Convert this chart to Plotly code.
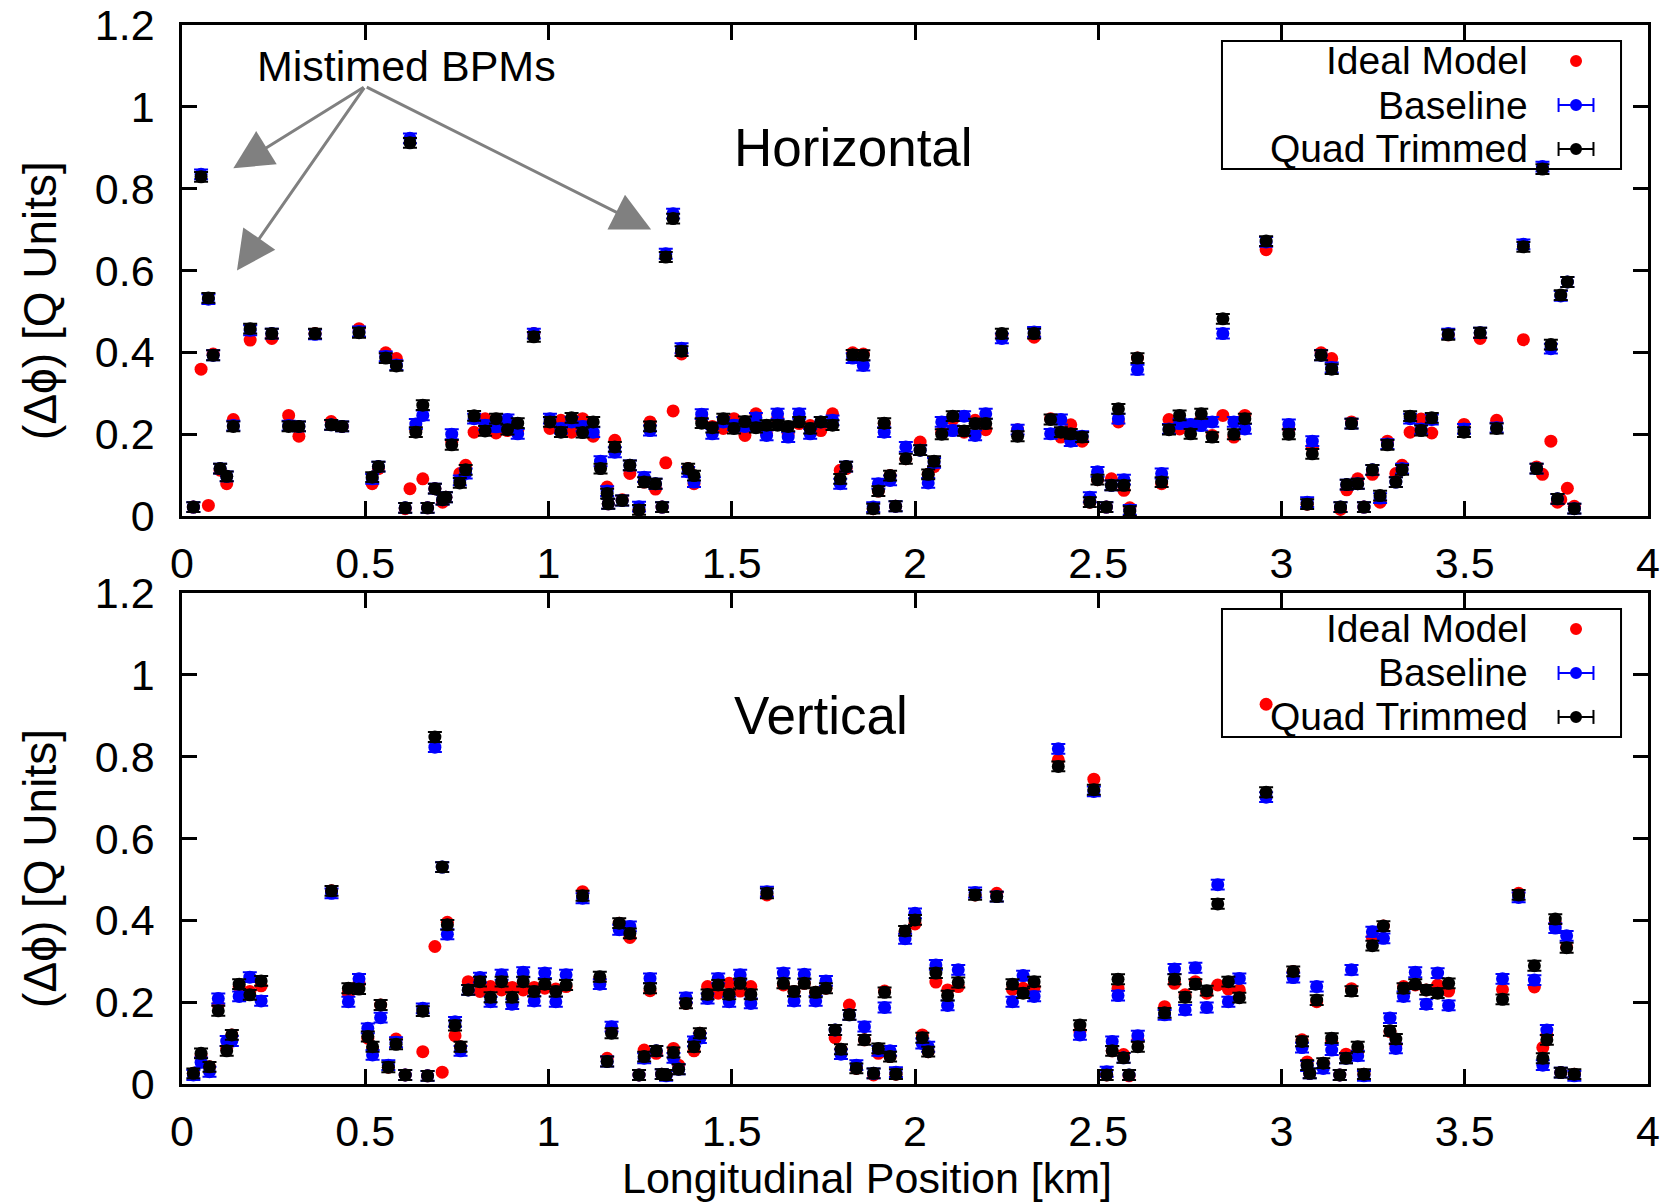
import plotly.graph_objects as go

# ---------------- Horizontal plane: phase advance error per BPM ----------------
h_pos_km = [0.031, 0.052, 0.072, 0.085, 0.104, 0.122, 0.140, 0.186, 0.245, 0.291,
            0.319, 0.363, 0.407, 0.437, 0.483, 0.519, 0.536, 0.556, 0.585, 0.609,
            0.622, 0.638, 0.657, 0.670, 0.690, 0.711, 0.720, 0.736, 0.758, 0.774,
            0.797, 0.827, 0.857, 0.888, 0.916, 0.960, 1.004, 1.034, 1.063, 1.093,
            1.122, 1.142, 1.160, 1.163, 1.181, 1.201, 1.222, 1.247, 1.261, 1.277,
            1.292, 1.310, 1.320, 1.340, 1.363, 1.381, 1.397, 1.418, 1.447, 1.477,
            1.506, 1.536, 1.566, 1.595, 1.625, 1.654, 1.684, 1.714, 1.743, 1.775,
            1.796, 1.812, 1.830, 1.859, 1.886, 1.900, 1.916, 1.932, 1.947, 1.975,
            2.014, 2.036, 2.052, 2.073, 2.103, 2.134, 2.164, 2.193, 2.237, 2.280,
            2.325, 2.370, 2.398, 2.425, 2.456, 2.477, 2.498, 2.522, 2.536, 2.555,
            2.570, 2.586, 2.607, 2.673, 2.693, 2.722, 2.752, 2.781, 2.811, 2.840,
            2.870, 2.900, 2.958, 3.020, 3.070, 3.084, 3.108, 3.137, 3.161, 3.178,
            3.191, 3.208, 3.225, 3.248, 3.269, 3.289, 3.312, 3.329, 3.351, 3.381,
            3.410, 3.455, 3.498, 3.542, 3.587, 3.660, 3.696, 3.712, 3.735, 3.753,
            3.762, 3.780, 3.799]

h_ideal = [0.022, 0.359, 0.026, 0.396, 0.112, 0.079, 0.236, 0.430, 0.434, 0.246,
           0.195, 0.446, 0.231, 0.219, 0.458, 0.079, 0.116, 0.399, 0.385, 0.018,
           0.067, 0.210, 0.091, 0.020, 0.067, 0.034, 0.046, 0.181, 0.104, 0.124,
           0.205, 0.238, 0.203, 0.209, 0.209, 0.446, 0.214, 0.234, 0.205, 0.238,
           0.195, 0.121, 0.071, 0.030, 0.185, 0.040, 0.104, 0.015, 0.083, 0.230,
           0.066, 0.022, 0.130, 0.257, 0.396, 0.116, 0.079, 0.238, 0.219, 0.214,
           0.238, 0.197, 0.250, 0.201, 0.238, 0.201, 0.226, 0.221, 0.209, 0.250,
           0.112, 0.116, 0.399, 0.396, 0.018, 0.061, 0.226, 0.099, 0.024, 0.140,
           0.181, 0.102, 0.121, 0.205, 0.236, 0.205, 0.234, 0.211, 0.442, 0.211,
           0.437, 0.238, 0.193, 0.223, 0.183, 0.034, 0.089, 0.022, 0.091, 0.230,
           0.063, 0.020, 0.386, 0.079, 0.236, 0.213, 0.221, 0.236, 0.197, 0.246,
           0.193, 0.246, 0.651, 0.213, 0.029, 0.168, 0.399, 0.385, 0.016, 0.064,
           0.230, 0.091, 0.022, 0.102, 0.034, 0.183, 0.104, 0.124, 0.205, 0.237,
           0.203, 0.443, 0.224, 0.434, 0.234, 0.431, 0.120, 0.102, 0.183, 0.034,
           0.040, 0.068, 0.024]

h_baseline = [0.022, 0.835, 0.530, 0.393, 0.116, 0.097, 0.221, 0.454, 0.446, 0.221,
              0.219, 0.444, 0.223, 0.219, 0.451, 0.091, 0.121, 0.390, 0.369, 0.020,
              0.923, 0.225, 0.246, 0.020, 0.067, 0.040, 0.046, 0.200, 0.087, 0.104,
              0.238, 0.222, 0.218, 0.236, 0.201, 0.446, 0.238, 0.214, 0.230, 0.219,
              0.205, 0.134, 0.061, 0.030, 0.156, 0.038, 0.124, 0.023, 0.095, 0.209,
              0.079, 0.022, 0.641, 0.739, 0.410, 0.108, 0.083, 0.249, 0.201, 0.230,
              0.222, 0.219, 0.240, 0.197, 0.250, 0.193, 0.250, 0.201, 0.230, 0.234,
              0.079, 0.121, 0.386, 0.368, 0.022, 0.079, 0.205, 0.087, 0.024, 0.169,
              0.161, 0.081, 0.130, 0.230, 0.209, 0.244, 0.197, 0.250, 0.434, 0.211,
              0.450, 0.201, 0.236, 0.183, 0.195, 0.046, 0.108, 0.022, 0.075, 0.238,
              0.089, 0.015, 0.358, 0.104, 0.213, 0.226, 0.224, 0.221, 0.230, 0.446,
              0.230, 0.213, 0.670, 0.224, 0.034, 0.183, 0.393, 0.363, 0.022, 0.077,
              0.226, 0.079, 0.022, 0.113, 0.044, 0.176, 0.083, 0.116, 0.238, 0.213,
              0.236, 0.446, 0.213, 0.448, 0.216, 0.664, 0.116, 0.854, 0.409, 0.042,
              0.538, 0.572, 0.018]

h_trimmed = [0.022, 0.829, 0.533, 0.393, 0.116, 0.097, 0.219, 0.458, 0.446, 0.219,
             0.219, 0.446, 0.223, 0.219, 0.448, 0.095, 0.121, 0.386, 0.367, 0.020,
             0.912, 0.205, 0.271, 0.020, 0.067, 0.040, 0.046, 0.174, 0.081, 0.113,
             0.245, 0.208, 0.238, 0.211, 0.227, 0.438, 0.230, 0.205, 0.240, 0.204,
             0.230, 0.116, 0.055, 0.030, 0.169, 0.038, 0.124, 0.015, 0.083, 0.219,
             0.079, 0.022, 0.633, 0.727, 0.403, 0.116, 0.099, 0.227, 0.216, 0.238,
             0.214, 0.231, 0.216, 0.222, 0.222, 0.219, 0.230, 0.214, 0.230, 0.222,
             0.091, 0.121, 0.394, 0.393, 0.018, 0.061, 0.227, 0.099, 0.024, 0.140,
             0.161, 0.102, 0.134, 0.200, 0.244, 0.208, 0.226, 0.226, 0.446, 0.195,
             0.446, 0.236, 0.205, 0.201, 0.193, 0.034, 0.089, 0.022, 0.075, 0.262,
             0.075, 0.012, 0.386, 0.083, 0.211, 0.246, 0.201, 0.250, 0.193, 0.482,
             0.200, 0.238, 0.672, 0.200, 0.029, 0.152, 0.393, 0.359, 0.022, 0.077,
             0.226, 0.079, 0.022, 0.113, 0.050, 0.174, 0.083, 0.113, 0.244, 0.209,
             0.240, 0.443, 0.205, 0.448, 0.214, 0.658, 0.116, 0.848, 0.419, 0.042,
             0.540, 0.572, 0.018]

# ---------------- Vertical plane: phase advance error per BPM ----------------
v_pos_km = [0.031, 0.052, 0.075, 0.099, 0.122, 0.136, 0.156, 0.185, 0.216, 0.408,
            0.454, 0.483, 0.507, 0.520, 0.542, 0.563, 0.584, 0.609, 0.657, 0.670,
            0.690, 0.710, 0.724, 0.745, 0.760, 0.781, 0.813, 0.842, 0.872, 0.901,
            0.931, 0.961, 0.990, 1.020, 1.048, 1.093, 1.140, 1.160, 1.172, 1.193,
            1.222, 1.247, 1.261, 1.277, 1.294, 1.309, 1.321, 1.341, 1.355, 1.375,
            1.397, 1.413, 1.434, 1.463, 1.493, 1.523, 1.552, 1.596, 1.641, 1.670,
            1.698, 1.729, 1.757, 1.782, 1.798, 1.821, 1.840, 1.862, 1.887, 1.900,
            1.917, 1.932, 1.948, 1.973, 2.000, 2.020, 2.036, 2.057, 2.089, 2.118,
            2.164, 2.223, 2.266, 2.295, 2.325, 2.391, 2.450, 2.488, 2.523, 2.538,
            2.554, 2.569, 2.584, 2.608, 2.681, 2.708, 2.737, 2.765, 2.796, 2.826,
            2.855, 2.885, 2.958, 3.032, 3.056, 3.070, 3.077, 3.096, 3.114, 3.137,
            3.159, 3.176, 3.191, 3.208, 3.225, 3.248, 3.278, 3.296, 3.312, 3.333,
            3.365, 3.395, 3.426, 3.456, 3.603, 3.647, 3.690, 3.713, 3.724, 3.747,
            3.762, 3.778, 3.799]

v_ideal = [0.026, 0.071, 0.042, 0.193, 0.087, 0.120, 0.238, 0.226, 0.240, 0.472,
           0.222, 0.246, 0.112, 0.085, 0.193, 0.041, 0.110, 0.022, 0.079, 0.020,
           0.336, 0.029, 0.395, 0.118, 0.091, 0.250, 0.226, 0.238, 0.230, 0.236,
           0.230, 0.236, 0.234, 0.232, 0.238, 0.470, 0.258, 0.063, 0.128, 0.393,
           0.358, 0.022, 0.083, 0.228, 0.075, 0.024, 0.022, 0.087, 0.046, 0.197,
           0.081, 0.124, 0.238, 0.222, 0.246, 0.227, 0.238, 0.462, 0.242, 0.226,
           0.246, 0.224, 0.234, 0.113, 0.085, 0.193, 0.038, 0.108, 0.022, 0.075,
           0.227, 0.067, 0.024, 0.372, 0.391, 0.120, 0.079, 0.249, 0.230, 0.238,
           0.462, 0.466, 0.231, 0.234, 0.236, 0.792, 0.128, 0.745, 0.022, 0.081,
           0.234, 0.072, 0.020, 0.108, 0.189, 0.246, 0.218, 0.250, 0.222, 0.242,
           0.232, 0.230, 0.928, 0.275, 0.108, 0.054, 0.026, 0.201, 0.051, 0.104,
           0.022, 0.073, 0.233, 0.079, 0.024, 0.358, 0.386, 0.128, 0.095, 0.238,
           0.242, 0.230, 0.242, 0.227, 0.231, 0.466, 0.237, 0.089, 0.120, 0.393,
           0.028, 0.335, 0.024]

v_baseline = [0.022, 0.053, 0.030, 0.209, 0.105, 0.105, 0.214, 0.261, 0.203, 0.466,
              0.201, 0.257, 0.136, 0.071, 0.162, 0.046, 0.102, 0.022, 0.185, 0.020,
              0.823, 0.530, 0.366, 0.152, 0.081, 0.230, 0.260, 0.201, 0.267, 0.195,
              0.273, 0.203, 0.271, 0.201, 0.267, 0.454, 0.244, 0.055, 0.140, 0.377,
              0.385, 0.022, 0.063, 0.258, 0.081, 0.024, 0.020, 0.064, 0.036, 0.211,
              0.104, 0.112, 0.209, 0.258, 0.201, 0.267, 0.197, 0.470, 0.271, 0.203,
              0.268, 0.203, 0.252, 0.132, 0.073, 0.169, 0.046, 0.140, 0.026, 0.081,
              0.187, 0.081, 0.029, 0.355, 0.417, 0.099, 0.091, 0.291, 0.192, 0.279,
              0.468, 0.458, 0.201, 0.265, 0.214, 0.819, 0.120, 0.715, 0.030, 0.104,
              0.216, 0.064, 0.022, 0.118, 0.169, 0.281, 0.181, 0.284, 0.187, 0.487,
              0.201, 0.258, 0.701, 0.260, 0.089, 0.044, 0.026, 0.238, 0.038, 0.083,
              0.022, 0.063, 0.279, 0.069, 0.020, 0.372, 0.356, 0.161, 0.087, 0.214,
              0.273, 0.195, 0.271, 0.192, 0.257, 0.456, 0.254, 0.046, 0.132, 0.381,
              0.028, 0.362, 0.020]

v_trimmed = [0.026, 0.075, 0.042, 0.179, 0.081, 0.120, 0.244, 0.218, 0.252, 0.472,
             0.234, 0.232, 0.116, 0.091, 0.193, 0.041, 0.097, 0.022, 0.178, 0.020,
             0.848, 0.530, 0.389, 0.143, 0.091, 0.230, 0.250, 0.212, 0.250, 0.212,
             0.250, 0.226, 0.244, 0.226, 0.242, 0.460, 0.262, 0.055, 0.124, 0.393,
             0.368, 0.022, 0.067, 0.234, 0.081, 0.024, 0.022, 0.077, 0.036, 0.197,
             0.091, 0.124, 0.219, 0.242, 0.219, 0.246, 0.219, 0.466, 0.246, 0.226,
             0.246, 0.224, 0.234, 0.132, 0.085, 0.169, 0.038, 0.108, 0.026, 0.087,
             0.224, 0.067, 0.024, 0.374, 0.401, 0.113, 0.079, 0.271, 0.216, 0.248,
             0.462, 0.458, 0.244, 0.222, 0.250, 0.776, 0.144, 0.719, 0.022, 0.081,
             0.256, 0.064, 0.022, 0.091, 0.174, 0.256, 0.212, 0.244, 0.228, 0.440,
             0.250, 0.211, 0.713, 0.275, 0.104, 0.046, 0.026, 0.205, 0.051, 0.112,
             0.022, 0.063, 0.227, 0.091, 0.024, 0.338, 0.386, 0.130, 0.110, 0.234,
             0.244, 0.230, 0.222, 0.246, 0.207, 0.462, 0.289, 0.063, 0.108, 0.403,
             0.028, 0.333, 0.024]

# Measurement uncertainty of the phase advance (Q units)
phase_err = 0.012

series_names = ["Ideal Model", "Baseline", "Quad Trimmed"]
series_colors = ["#ff0000", "#0000ff", "#000000"]

x_ticks = [0, 0.5, 1, 1.5, 2, 2.5, 3, 3.5, 4]
y_ticks = [0, 0.2, 0.4, 0.6, 0.8, 1, 1.2]

FONT = "Liberation Sans, Arial, Helvetica, sans-serif"
MARKER = 13
Y_TITLE = "(Δϕ) [Q Units]"
X_TITLE = "Longitudinal Position [km]"

fig = go.Figure()

panels = [
    ("x", "y", h_pos_km, [h_ideal, h_baseline, h_trimmed], "Horizontal"),
    ("x2", "y2", v_pos_km, [v_ideal, v_baseline, v_trimmed], "Vertical"),
]

for xa, ya, pos, values, label in panels:
    for i, (name, color, vals) in enumerate(zip(series_names, series_colors, values)):
        trace = dict(
            x=pos, y=vals, mode="markers", name=name, xaxis=xa, yaxis=ya,
            showlegend=False,
            marker=dict(size=MARKER, color=color, line=dict(width=0)),
        )
        if i > 0:
            trace["error_y"] = dict(type="constant", value=phase_err, color=color,
                                    thickness=2, width=7)
        fig.add_trace(go.Scatter(**trace))

    xd, yd = f"{xa} domain", f"{ya} domain"

    # panel label
    fig.add_annotation(x=1.5, y=0.9, xref=xa, yref=ya, text=label, showarrow=False,
                       xanchor="left", yanchor="middle",
                       font=dict(family=FONT, size=53, color="black"))

    # y axis title (placed slightly below the panel centre)
    fig.add_annotation(x=-0.0969, y=0.44, xref=xd, yref=yd, text=Y_TITLE,
                       textangle=-90, showarrow=False, xanchor="center",
                       yanchor="middle", font=dict(family=FONT, size=46, color="black"))

    # boxed key in the upper right corner, gnuplot style (text then sample)
    fig.add_shape(type="rect", xref=xd, yref=yd, x0=0.7094, x1=0.9816,
                  y0=0.7067, y1=0.9674, line=dict(color="black", width=2),
                  fillcolor="rgba(0,0,0,0)", layer="above")
    row_y = [0.9267, 0.837, 0.7475]
    gx, half = 0.9509, 0.0119
    for i, (name, color) in enumerate(zip(series_names, series_colors)):
        gy = row_y[i]
        fig.add_annotation(x=0.9195, y=gy, xref=xd, yref=yd, text=name,
                           showarrow=False, xanchor="right", yanchor="middle",
                           font=dict(family=FONT, size=39, color="black"))
        if i > 0:
            fig.add_shape(type="line", xref=xd, yref=yd, x0=gx - half, x1=gx + half,
                          y0=gy, y1=gy, line=dict(color=color, width=2))
            for cx in (gx - half, gx + half):
                fig.add_shape(type="line", xref=xd, yref=yd, ysizemode="pixel",
                              yanchor=gy, x0=cx, x1=cx, y0=-7, y1=7,
                              line=dict(color=color, width=2))
        fig.add_shape(type="circle", xref=xd, yref=yd, xsizemode="pixel",
                      ysizemode="pixel", xanchor=gx, yanchor=gy,
                      x0=-6, x1=6, y0=-6, y1=6,
                      fillcolor=color, line=dict(width=0))

# x axis title under the lower panel
fig.add_annotation(x=0.467, y=-0.191, xref="x2 domain", yref="y2 domain", text=X_TITLE,
                   showarrow=False, xanchor="center", yanchor="middle",
                   font=dict(family=FONT, size=43, color="black"))

# Mistimed BPM call-out with arrows on the horizontal panel
fig.add_annotation(x=0.2, y=1.1, xref="x", yref="y", text="Mistimed BPMs",
                   showarrow=False, xanchor="left", yanchor="middle",
                   font=dict(family=FONT, size=43, color="black"))
for tip_x, tip_y in [(0.14, 0.85), (0.15, 0.60), (1.28, 0.70)]:
    fig.add_annotation(x=tip_x, y=tip_y, xref="x", yref="y", ax=0.5, ay=1.05,
                       axref="x", ayref="y", text="", showarrow=True,
                       arrowhead=2, arrowsize=2.6, arrowwidth=3,
                       arrowcolor="#808080", standoff=0, startstandoff=0)

axis_common = dict(
    showgrid=False, zeroline=False, showline=True, linecolor="black", linewidth=2.5,
    mirror="ticks", ticks="inside", ticklen=15, tickwidth=2.5, tickcolor="black",
    tickfont=dict(family=FONT, size=43, color="black"), automargin=False,
)

fig.update_layout(
    width=1674, height=1203,
    margin=dict(l=182, r=26, t=25, b=119),
    paper_bgcolor="white", plot_bgcolor="white",
    font=dict(family=FONT, color="black"),
    showlegend=False,
    xaxis=dict(domain=[0, 1], anchor="y", range=[0, 4], tickvals=x_ticks,
               ticklabelstandoff=8, **axis_common),
    yaxis=dict(domain=[0.5363, 1], anchor="x", range=[0, 1.2], tickvals=y_ticks,
               ticklabelstandoff=16, **axis_common),
    xaxis2=dict(domain=[0, 1], anchor="y2", range=[0, 4], tickvals=x_ticks,
                ticklabelstandoff=8, **axis_common),
    yaxis2=dict(domain=[0, 0.4637], anchor="x2", range=[0, 1.2], tickvals=y_ticks,
                ticklabelstandoff=16, **axis_common),
)

fig.write_html("out.html")
